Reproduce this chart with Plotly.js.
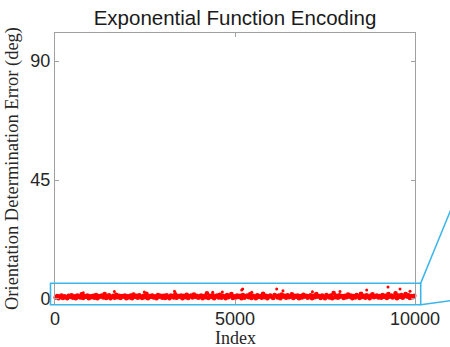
<!DOCTYPE html>
<html>
<head>
<meta charset="utf-8">
<script src="https://cdn.plot.ly/plotly-3.0.1.min.js"></script>
<style>html,body{margin:0;padding:0;background:#fff;}#chart{width:450px;height:347px;}</style>
</head>
<body>
<div id="chart"></div>
<script>
// ---- data ----
const chartTitle = "Exponential Function Encoding";
const xLabel = "Index";
const yLabel = "Orientation Determination Error (deg)";
const xTicks = [0, 5000, 10000];
const yTicks = [0, 45, 90];

// bulk of samples: one representative value every 40 indices, starting at index 20
const sampleStart = 20;
const sampleStep = 40;
const bulkErrors = [
  0.6,1.1,0.3,0.9,1.3,0.4,1.0,0.7,0.3,1.2,0.8,1.4,0.5,1.0,0.3,1.3,0.9,0.6,1.8,0.4,1.1,0.8,1.3,0.3,1.0,
  0.7,1.2,0.5,1.5,0.3,1.1,0.9,1.3,0.6,1.9,0.4,1.0,1.4,0.3,0.8,1.2,0.5,1.6,0.7,1.2,0.4,1.1,0.9,1.3,0.3,
  1.0,0.6,1.3,0.3,1.7,0.8,1.2,0.5,1.4,0.9,0.4,1.2,0.7,2.0,0.3,1.1,0.8,1.3,0.6,1.0,0.3,1.5,0.9,1.2,0.5,
  1.2,0.4,1.4,0.8,0.3,1.3,1.0,0.6,1.8,0.5,1.1,0.9,1.3,0.3,1.2,0.7,1.6,0.4,1.0,1.3,0.6,1.7,0.8,1.2,0.5,
  0.9,1.3,0.3,1.1,0.7,2.1,0.4,1.2,0.8,1.4,0.3,1.0,1.3,0.6,1.6,0.5,1.2,0.9,0.3,1.5,0.7,1.1,1.9,0.4,1.0,
  0.6,1.3,0.8,1.2,0.3,1.5,0.5,1.0,1.3,0.7,1.8,0.4,1.2,0.9,0.3,1.4,0.8,1.1,0.5,2.0,0.7,1.2,0.3,1.0,1.3,
  0.8,0.4,1.5,1.1,0.6,1.3,0.3,1.7,0.9,1.2,0.5,1.4,0.7,1.0,1.8,0.4,1.2,0.8,1.3,0.3,1.1,0.6,1.6,0.9,1.2,
  0.5,1.0,1.4,0.3,1.2,0.7,1.9,0.9,1.1,0.4,1.3,0.8,0.3,1.5,1.0,0.6,1.3,0.3,2.2,0.7,1.2,0.5,1.4,0.9,1.1,
  0.4,1.2,0.7,1.7,0.9,1.3,0.3,1.1,0.6,1.5,1.0,0.4,2.0,0.8,1.2,0.5,1.4,0.9,0.3,1.3,1.8,0.7,1.0,1.3,0.6,
  1.1,0.5,1.5,0.8,1.2,0.4,1.9,0.9,1.3,0.6,1.0,2.1,0.3,1.3,0.8,1.5,0.5,1.2,1.9,0.9,1.4,0.4,1.1,0.7,1.2
];
// scattered larger errors
const outlierIndex = [786, 1650, 2480, 3320, 4380, 4647, 5186, 5214, 5464, 6158, 6333, 7150, 7917, 8658, 9250, 9583, 9861];
const outlierError = [2.4, 2.8, 2.6, 2.9, 2.5, 2.6, 3.4, 3.8, 2.5, 3.8, 3.1, 2.7, 2.8, 3.4, 4.5, 3.8, 2.9];

// ---- build traces ----
const bulkIndex = bulkErrors.map((_, i) => sampleStart + i * sampleStep);

const bulkTrace = {
  type: 'scatter', mode: 'markers',
  x: bulkIndex, y: bulkErrors,
  marker: {color: '#ff0000', size: 4.6, line: {width: 0}},
  hoverinfo: 'skip', showlegend: false, cliponaxis: false
};
const outlierTrace = {
  type: 'scatter', mode: 'markers',
  x: outlierIndex, y: outlierError,
  marker: {color: '#ff0000', size: 3, line: {width: 0}},
  hoverinfo: 'skip', showlegend: false, cliponaxis: false
};

const axisColor = '#a0a0a0';
const tickFont = {family: 'Liberation Sans, Arial, sans-serif', size: 18, color: '#262626'};
const labelFont = {family: 'Liberation Serif, Times New Roman, serif', size: 18, color: '#262626'};
const cyan = '#3cb6ea';

const layout = {
  width: 450, height: 347,
  margin: {l: 55, r: 35, t: 33, b: 43, pad: 0},
  paper_bgcolor: '#ffffff', plot_bgcolor: '#ffffff',
  title: {
    text: chartTitle,
    font: {family: 'Liberation Sans, Arial, sans-serif', size: 20.5, color: '#1a1a1a'},
    x: 0.5, xref: 'paper', xanchor: 'center',
    y: 1, yref: 'paper', yanchor: 'bottom', pad: {b: 8}
  },
  xaxis: {
    range: [0, 10000], tickvals: xTicks, ticktext: xTicks.map(String),
    ticks: 'inside', ticklen: 4, tickcolor: axisColor, tickwidth: 1,
    showline: true, linecolor: axisColor, linewidth: 1, mirror: 'ticks',
    showgrid: false, zeroline: false, tickfont: tickFont, automargin: false,
    ticklabelstandoff: -2
  },
  yaxis: {
    range: [-1.9, 100.6], tickvals: yTicks, ticktext: yTicks.map(String),
    ticks: 'inside', ticklen: 4, tickcolor: axisColor, tickwidth: 1,
    showline: true, linecolor: axisColor, linewidth: 1, mirror: 'ticks',
    showgrid: false, zeroline: false, tickfont: tickFont, automargin: false,
    title: {text: yLabel, font: {family: 'Liberation Serif, Times New Roman, serif', size: 18.5, color: '#262626'}, standoff: 6}
  },
  annotations: [
    {text: xLabel, font: labelFont, showarrow: false, borderpad: 0,
     xref: 'paper', yref: 'paper', x: 0.5, xanchor: 'center',
     y: -0.126, yanchor: 'middle'}
  ],
  shapes: [
    {type: 'rect', xref: 'paper', yref: 'paper', x0: -0.0125, x1: 1.0158, y0: -0.0026, y1: 0.0764,
     line: {color: cyan, width: 1.6}, fillcolor: 'rgba(0,0,0,0)', layer: 'above'},
    {type: 'line', xref: 'paper', yref: 'paper', x0: 1.0158, y0: 0.0764, x1: 1.16, y1: 0.544,
     line: {color: cyan, width: 1.6}, layer: 'above'},
    {type: 'line', xref: 'paper', yref: 'paper', x0: 1.0158, y0: -0.0026, x1: 1.16, y1: 0.0236,
     line: {color: cyan, width: 1.6}, layer: 'above'}
  ]
};

Plotly.newPlot('chart', [bulkTrace, outlierTrace], layout, {staticPlot: true, displayModeBar: false});
</script>
</body>
</html>
